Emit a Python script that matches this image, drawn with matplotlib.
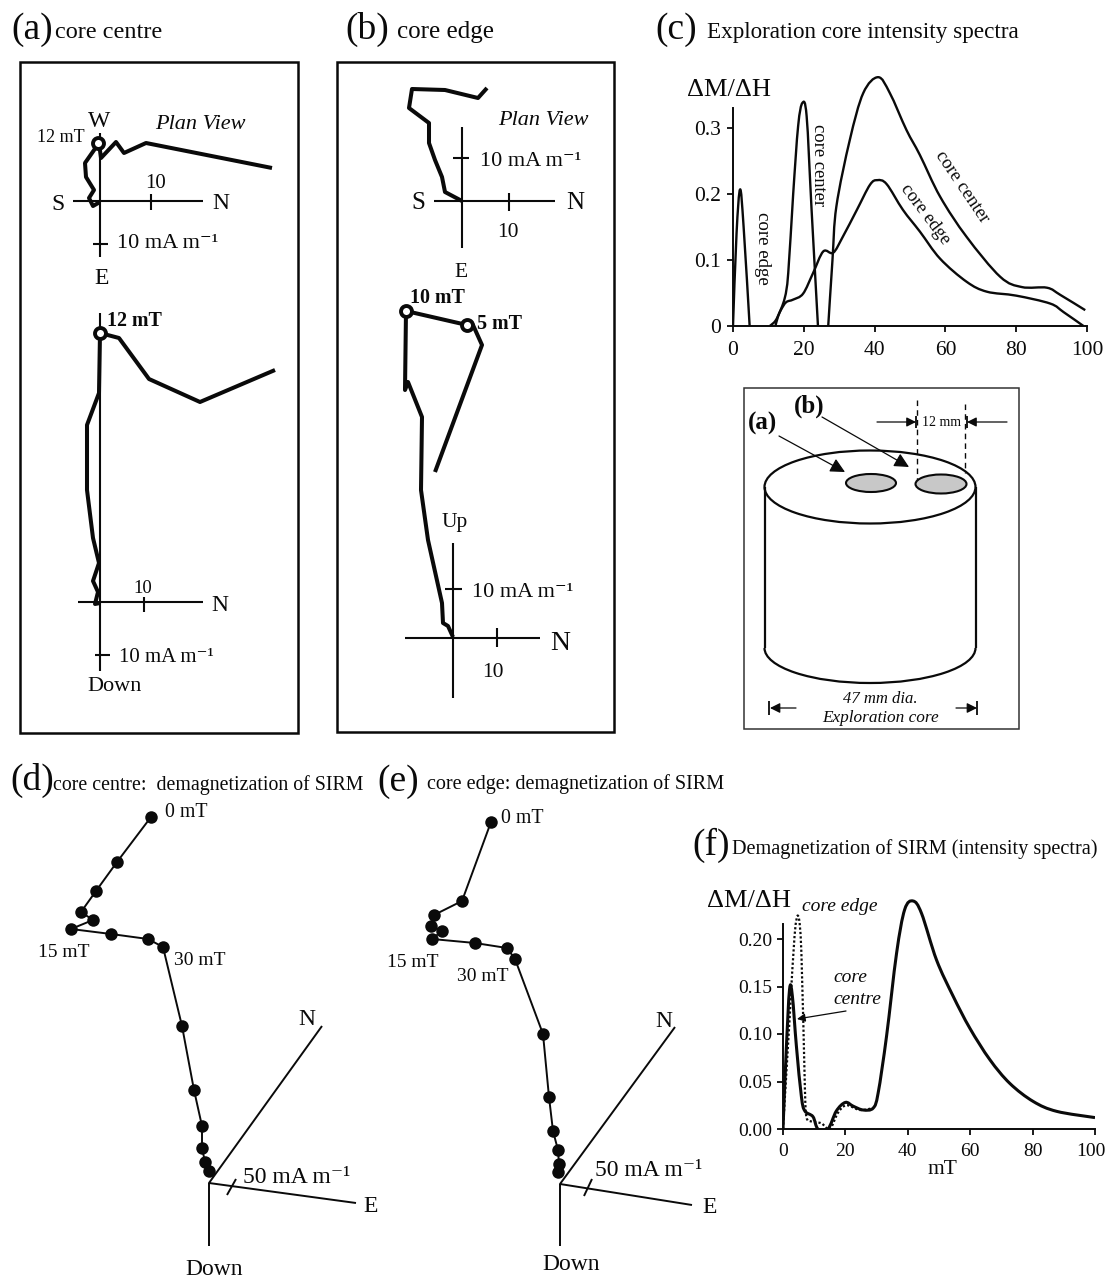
import matplotlib
matplotlib.use("Agg")
import matplotlib.pyplot as plt
from matplotlib.path import Path
from matplotlib.patches import PathPatch, Ellipse, Arc, Rectangle
from matplotlib.transforms import ScaledTranslation

plt.rcParams['font.family'] = ['Liberation Serif', 'DejaVu Serif']

W, H = 1106, 1278
INK = '#0a0a0a'
UNIT = "10 mA m\u207b\u00b9"
UNIT50 = "50 mA m\u207b\u00b9"

# ---------- panel (c): intensity spectra ----------
c_edge_low_x = [0, 1, 2, 3, 4.7]
c_edge_low_y = [0, 0.14, 0.207, 0.15, 0]
c_edge_x = [10.4, 12, 13.5, 15, 17, 19.8, 22.6, 25.5, 28.3, 31, 35, 38.7, 40.8, 43.4, 48, 52.8,
            58.5, 66, 71.7, 80, 89.6, 93.4, 99]
c_edge_y = [0, 0.008, 0.024, 0.036, 0.04, 0.049, 0.08, 0.113, 0.111, 0.135, 0.176, 0.214, 0.221,
            0.215, 0.176, 0.143, 0.102, 0.067, 0.052, 0.046, 0.034, 0.021, 0]
c_centre_low_x = [12, 12.7, 14.6, 15.6, 17, 18.4, 19.6, 20.8, 22.2, 24]
c_centre_low_y = [0, 0.014, 0.042, 0.08, 0.2, 0.303, 0.338, 0.318, 0.176, 0]
c_centre_x = [26.9, 28.1, 29.2, 33, 36.8, 41, 44.3, 49, 52.8, 58.5, 66, 75.5, 81.6, 88.7, 92.5, 99.5]
c_centre_y = [0, 0.1, 0.181, 0.282, 0.353, 0.377, 0.353, 0.297, 0.259, 0.196, 0.135, 0.0745,
              0.059, 0.058, 0.047, 0.024]
c_xticks = [0, 20, 40, 60, 80, 100]
c_yticks = [0, 0.1, 0.2, 0.3]
c_yticklabels = ['0', '0.1', '0.2', '0.3']

# ---------- panel (f): demagnetization spectra ----------
f_centre_x = [0, 1, 2.1, 3, 4.3, 5.9, 7, 9.6, 11.2, 14.4, 17.1, 20, 22.5, 25.7, 28.9, 30.5, 33.2,
              36.4, 39, 41.7, 44.4, 49.2, 54.5, 59.9, 66.3, 72.7, 80.2, 87.7, 100]
f_centre_y = [0, 0.08, 0.147, 0.14, 0.087, 0.034, 0.019, 0.013, 0, 0, 0.019, 0.028, 0.024, 0.02,
              0.022, 0.038, 0.098, 0.185, 0.231, 0.24, 0.227, 0.178, 0.14, 0.106, 0.073, 0.048,
              0.029, 0.0186, 0.012]
f_edge_x = [0, 2.1, 3.7, 4.9, 5.9, 7, 7.5, 9, 12.3, 15, 17.6, 20.3, 24.6, 28.9]
f_edge_y = [0, 0.115, 0.203, 0.224, 0.185, 0.045, 0.013, 0.008, 0.006, 0, 0.017, 0.025, 0.02, 0.022]
f_xticks = [0, 20, 40, 60, 80, 100]
f_yticks = [0, 0.05, 0.10, 0.15, 0.20]
f_yticklabels = ['0.00', '0.05', '0.10', '0.15', '0.20']

# ---------- panels (a), (b): demagnetization paths (figure pixels) ----------
a_plan = [(272, 168), (146, 143), (124, 153), (116, 142), (101, 158), (99, 143), (85, 163),
          (86, 177), (94, 190), (89, 198), (93, 206), (100, 202)]
a_vert = [(275, 370), (200, 402), (149, 379), (119, 338), (100, 333), (99, 393), (87, 425),
          (87, 490), (93, 538), (99, 563), (93, 581), (98, 592), (95, 604), (100, 603)]
b_plan = [(487, 88), (478, 98), (445, 90), (412, 89), (409, 108), (429, 123), (429, 143),
          (435, 160), (442, 177), (445, 192), (462, 201)]
b_vert = [(435, 472), (482, 345), (473, 325), (467, 325), (406, 311), (405, 390), (408, 382),
          (422, 417), (421, 490), (428, 540), (442, 603), (443, 623), (448, 626), (453, 637)]

# ---------- panels (d), (e): SIRM paths (figure pixels) ----------
d_points = [(151, 817), (117, 862), (96, 891), (81, 912), (93, 920), (71, 929), (111, 934),
            (148, 939), (163, 947), (182, 1026), (194, 1090), (202, 1126), (202, 1148),
            (205, 1162), (209, 1171)]
e_points = [(491, 822), (462, 901), (434, 915), (431, 926), (442, 931), (432, 939), (475, 943),
            (507, 948), (515, 959), (543, 1034), (549, 1097), (553, 1131), (558, 1150),
            (559, 1164), (558, 1172)]


def smooth_path(xs, ys):
    """Cubic path that passes through the read points."""
    pts = list(zip(xs, ys))
    verts, codes = [pts[0]], [Path.MOVETO]
    for i in range(len(pts) - 1):
        p0 = pts[i - 1] if i > 0 else pts[i]
        p1, p2 = pts[i], pts[i + 1]
        p3 = pts[i + 2] if i + 2 < len(pts) else p2
        c1 = (p1[0] + (p2[0] - p0[0]) / 6, p1[1] + (p2[1] - p0[1]) / 6)
        c2 = (p2[0] - (p3[0] - p1[0]) / 6, p2[1] - (p3[1] - p1[1]) / 6)
        verts += [c1, c2, p2]
        codes += [Path.CURVE4] * 3
    return Path(verts, codes)


def curve(ax, xs, ys, lw, ls='-', zorder=3):
    ax.add_patch(PathPatch(smooth_path(xs, ys), fill=False, ec=INK, lw=lw, ls=ls,
                           capstyle='butt', joinstyle='round', zorder=zorder))


fig = plt.figure(figsize=(W / 100, H / 100), dpi=100)

# pixel-coordinate canvas for the schematic panels
cv = fig.add_axes([0, 0, 1, 1])
cv.set_xlim(0, W)
cv.set_ylim(H, 0)
cv.axis('off')


def T(x, y, s, size=16, ha='left', va='baseline', **kw):
    return cv.text(x, y, s, fontsize=size, ha=ha, va=va, color=INK, **kw)


def L(pts, lw=1.4, **kw):
    kw.setdefault('solid_capstyle', 'butt')
    cv.plot([p[0] for p in pts], [p[1] for p in pts], color=INK, lw=lw, **kw)


def cross(x0, x1, xc, y0, y1, yc, lw=1.5):
    L([(x0, yc), (x1, yc)], lw)
    L([(xc, y0), (xc, y1)], lw)


def ring(x, y):
    cv.plot([x], [y], 'o', ms=7.9, mfc='white', mec=INK, mew=2.8, zorder=5)


def box(l, t, r, b, lw=1.8, ec=INK):
    cv.add_patch(Rectangle((l, t), r - l, b - t, fill=False, ec=ec, lw=lw))


# headings
T(11, 39, "(a)", 27); T(55, 38, "core centre", 17.5)
T(345, 39, "(b)", 27); T(397, 38, "core edge", 18)
T(655, 39, "(c)", 27); T(707, 38, "Exploration core intensity spectra", 16.7)
T(10, 790, "(d)", 27); T(53, 790, "core centre:  demagnetization of SIRM", 14.3)
T(377, 791, "(e)", 27); T(427, 789, "core edge: demagnetization of SIRM", 14.5)
T(692, 855, "(f)", 27); T(732, 854, "Demagnetization of SIRM (intensity spectra)", 14.6)

# panel (a)
box(20, 62, 298, 733)
cross(73, 203, 100, 133, 257, 201)
L([(151, 194), (151, 210)], 1.5)
L([(93, 244), (108, 244)], 1.5)
L(a_plan, 2.9)
ring(98, 143)
T(99, 127, "W", 17, ha='center')
T(37, 142, "12 mT", 13)
T(155, 129, "Plan View", 16, style='italic')
T(156, 188, "10", 15, ha='center')
T(58, 210, "S", 17, ha='center')
T(212, 209, "N", 17)
T(117, 248, UNIT, 16)
T(102, 284, "E", 17, ha='center')

cross(78, 203, 100, 313, 671, 602)
L([(144, 597), (144, 612)], 1.5)
L([(95, 655), (110, 655)], 1.5)
L(a_vert, 2.9)
ring(100, 333)
T(107, 326, "12 mT", 14.4, weight='bold')
T(143, 593, "10", 13.5, ha='center')
T(211, 611, "N", 17)
T(119, 662, UNIT, 15)
T(87, 691, "Down", 16)

# panel (b)
box(337, 62, 614, 732)
cross(434, 555, 462, 127, 248, 201)
L([(509, 193), (509, 211)], 1.5)
L([(453, 158), (469, 158)], 1.5)
L(b_plan, 2.9)
T(498, 125, "Plan View", 16, style='italic')
T(480, 166, UNIT, 16)
T(418, 209, "S", 18, ha='center')
T(566, 209, "N", 18)
T(508, 237, "10", 15.5, ha='center')
T(461, 277, "E", 15.5, ha='center')

L(b_vert, 2.9)
ring(406, 311)
ring(467, 325)
T(410, 303, "10 mT", 14.4, weight='bold')
T(477, 329, "5 mT", 14.4, weight='bold')
cross(405, 540, 453, 543, 698, 638)
L([(497, 628), (497, 647)], 1.5)
L([(445, 589), (462, 589)], 1.5)
T(455, 527, "Up", 15.5, ha='center')
T(472, 597, UNIT, 16)
T(550, 650, "N", 20)
T(493, 677, "10", 15.5, ha='center')

# exploration core sketch
box(744, 388, 1019, 729, lw=1.1, ec='#333333')
cv.add_patch(Ellipse((870, 487), 211, 73, fill=False, ec=INK, lw=1.6))
L([(765, 487), (765, 648)], 1.6)
L([(976, 487), (976, 648)], 1.6)
cv.add_patch(Arc((870, 648), 211, 70, theta1=0, theta2=180, ec=INK, lw=1.6))
cv.add_patch(Ellipse((871, 483), 50, 18, fc='#c8c8c8', ec=INK, lw=1.5))
cv.add_patch(Ellipse((941, 484), 51, 19, fc='#c8c8c8', ec=INK, lw=1.5))
L([(917, 400), (917, 480)], 1.0, ls=(0, (4, 3)))
L([(965, 404), (965, 473)], 1.0, ls=(0, (4, 3)))


def arrow(p, q, scale=14, lw=0.9):
    cv.annotate('', xy=q, xytext=p,
                arrowprops=dict(arrowstyle='-|>', mutation_scale=scale, fc=INK, ec=INK, lw=lw,
                                shrinkA=0, shrinkB=0))


arrow((779, 436), (845, 472), 22)
arrow((822, 417), (909, 467), 22)
arrow((877, 422), (916, 422), 14)
arrow((1007, 422), (967, 422), 14)
L([(916, 416), (916, 428)], 1.3)
L([(967, 416), (967, 428)], 1.3)
arrow((796, 708), (770, 708), 15)
arrow((956, 708), (977, 708), 15)
L([(769, 701), (769, 715)], 1.3)
L([(977, 701), (977, 715)], 1.3)
T(748, 430, "(a)", 18, weight='bold')
T(794, 413, "(b)", 18, weight='bold')
T(942, 426, "12 mm", 10, ha='center')
T(880, 703, "47 mm dia.", 12, ha='center', style='italic')
T(881, 722, "Exploration core", 12.4, ha='center', style='italic')


def sirm(points, origin, n_end, e_end, down_end, tick):
    L([n_end, origin, e_end], 1.4)
    L([origin, down_end], 1.4)
    L(tick, 1.4)
    cv.plot([p[0] for p in points], [p[1] for p in points], '-o', color=INK, lw=1.4, ms=9, mew=0)


# panel (d)
sirm(d_points, (209, 1183), (322, 1026), (356, 1203), (209, 1246), [(227, 1195), (236, 1179)])
T(165, 817, "0 mT", 14.3)
T(38, 957, "15 mT", 14)
T(174, 965, "30 mT", 14)
T(307, 1025, "N", 17, ha='center')
T(243, 1183, UNIT50, 17)
T(363, 1212, "E", 17)
T(214, 1275, "Down", 17, ha='center')

# panel (e)
sirm(e_points, (560, 1184), (675, 1027), (692, 1205), (560, 1246), [(584, 1196), (592, 1179)])
T(501, 823, "0 mT", 14.3)
T(387, 967, "15 mT", 14)
T(457, 981, "30 mT", 14)
T(664, 1027, "N", 17, ha='center')
T(595, 1176, UNIT50, 17)
T(702, 1213, "E", 17)
T(571, 1270, "Down", 17, ha='center')


def spectrum_axes(left, right, y0, px_per_unit, ytop, bound):
    height = ytop * px_per_unit
    ax = fig.add_axes([left / W, 1 - y0 / H, (right - left) / W, height / H])
    ax.patch.set_alpha(0)
    ax.set_xlim(0, 100)
    ax.set_ylim(0, ytop)
    for s in ('top', 'right'):
        ax.spines[s].set_visible(False)
    for s in ('left', 'bottom'):
        ax.spines[s].set_linewidth(1.4)
        ax.spines[s].set_color(INK)
    ax.spines['left'].set_bounds(0, bound)
    return ax


# panel (c)
axc = spectrum_axes(733, 1087, 326, 660, 0.40, 0.33)
axc.set_xticks(c_xticks)
axc.set_yticks(c_yticks)
axc.set_yticklabels(c_yticklabels)
axc.tick_params(length=4.5, width=1.3, labelsize=15.5, color=INK, labelcolor=INK)
axc.tick_params(axis='x', pad=6)
axc.tick_params(axis='y', pad=4)
for xs, ys in ((c_edge_low_x, c_edge_low_y), (c_edge_x, c_edge_y),
               (c_centre_low_x, c_centre_low_y), (c_centre_x, c_centre_y)):
    curve(axc, xs, ys, 1.7)
T(687, 96, "\u0394M/\u0394H", 19)
T(762, 248, "core edge", 13.6, ha='center', va='center', rotation=-90, rotation_mode='anchor')
T(818, 165, "core center", 13.3, ha='center', va='center', rotation=-90, rotation_mode='anchor')
T(962, 187, "core center", 13.5, ha='center', va='center', rotation=-56, rotation_mode='anchor')
T(925, 214, "core edge", 13.2, ha='center', va='center', rotation=-53, rotation_mode='anchor')

# panel (f)
axf = spectrum_axes(783, 1095, 1129, 950, 0.25, 0.216)
axf.set_xticks(f_xticks)
axf.set_yticks(f_yticks)
axf.set_yticklabels(f_yticklabels)
axf.tick_params(length=4, width=1.3, labelsize=14, color=INK, labelcolor=INK)
axf.tick_params(axis='x', pad=6)
axf.tick_params(axis='y', pad=4)
last = axf.get_xticklabels()[-1]
last.set_transform(last.get_transform() + ScaledTranslation(-0.045, 0, fig.dpi_scale_trans))
curve(axf, f_edge_x, f_edge_y, 1.6, ls=(0, (1, 1)), zorder=2)
curve(axf, f_centre_x, f_centre_y, 2.2)
T(707, 907, "\u0394M/\u0394H", 19)
T(802, 911, "core edge", 14, style='italic')
T(833, 982, "core", 14, style='italic')
T(833, 1004, "centre", 14, style='italic')
T(942, 1174, "mT", 15.5, ha='center')
arrow((846, 1011), (797, 1019), 12, 0.9)

fig.savefig("out.png", dpi=100)
